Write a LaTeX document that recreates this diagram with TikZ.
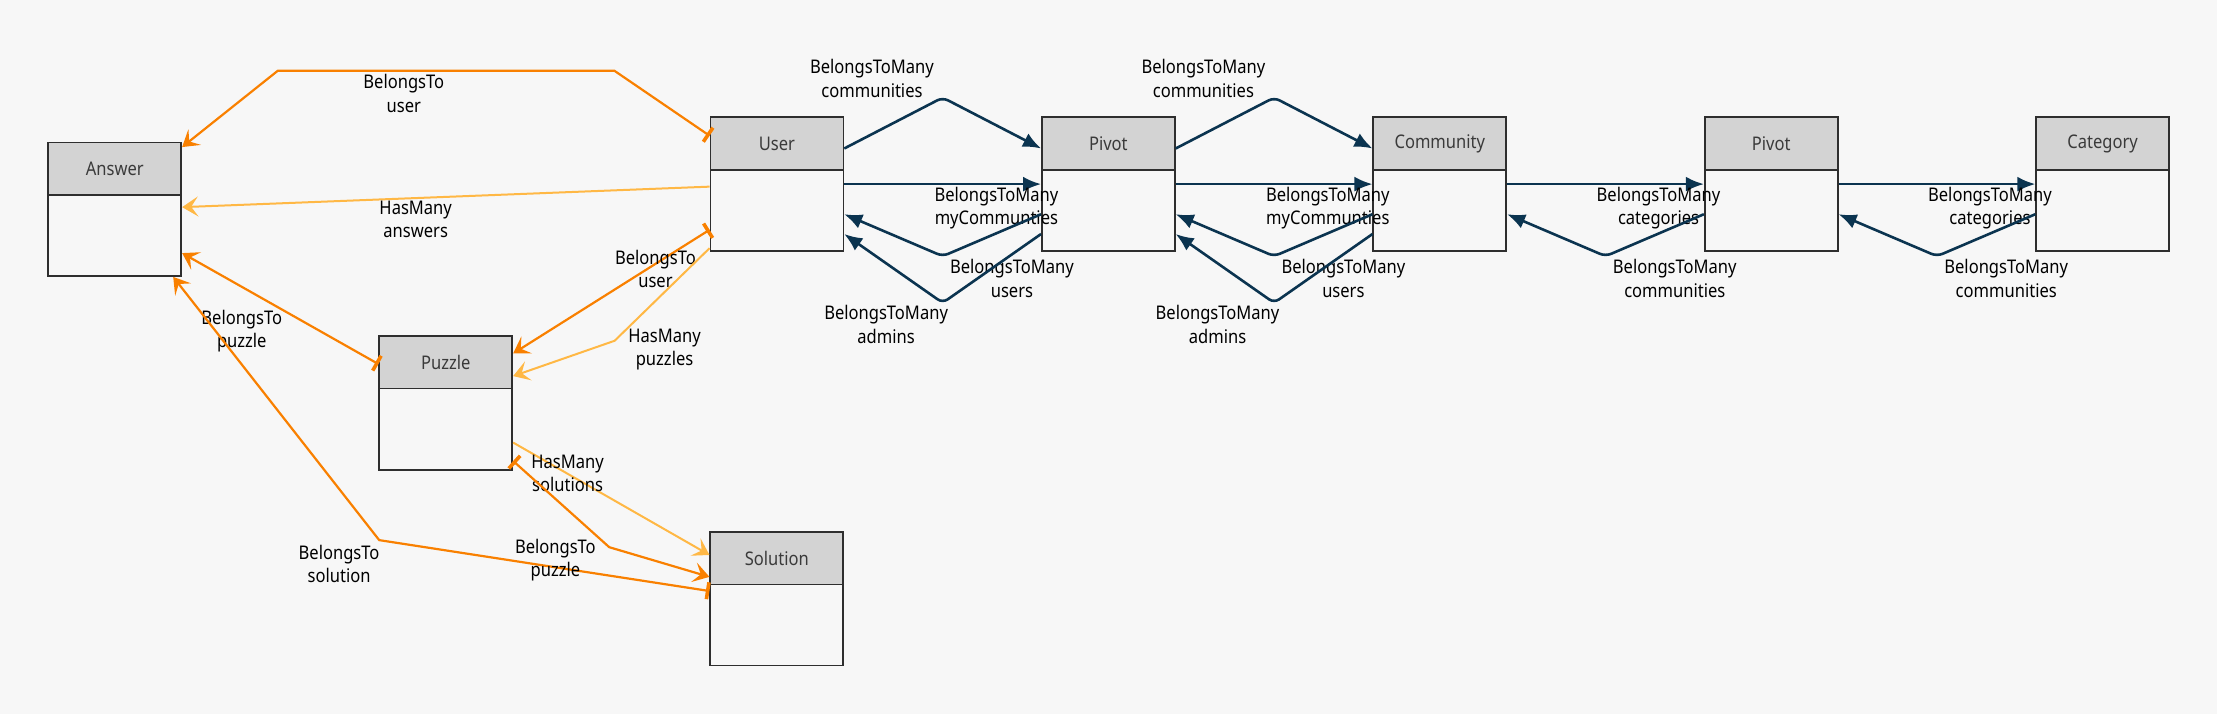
\documentclass[tikz,border=0pt]{standalone}
\usepackage{fontspec}
\usepackage{tikz}
\usetikzlibrary{arrows.meta,calc,positioning}
\newfontfamily\diagfont[FakeStretch=0.88]{Noto Sans}
\newcommand{\lblfont}{\diagfont\fontsize{9.4pt}{11.7pt}\selectfont}
\definecolor{bgGray}{HTML}{F7F7F7}
\definecolor{headGray}{HTML}{D3D3D3}
\definecolor{lineDark}{HTML}{2E2E2E}
\definecolor{titleGray}{HTML}{3A3A3A}
\definecolor{btOrange}{HTML}{F98000}
\definecolor{hmOrange}{HTML}{FFB845}
\definecolor{btmNavy}{HTML}{0B3450}
\tikzset{%
  entity/.style    = {draw=lineDark, line width=0.85pt, rectangle, minimum width=66.5pt,
    minimum height=66.8pt, inner sep=0pt},
  head/.style      = {draw=lineDark, line width=0.85pt, fill=headGray, rectangle, anchor=north,
    minimum width=66.5pt, minimum height=26.2pt, inner sep=0pt, text=titleGray, font=\lblfont},
  lbl/.style       = {align=center, inner sep=0pt, text=black, font=\lblfont},
  belongsto/.style = {draw=btOrange, line width=1.1pt,
    arrows={Bar[width=8.5pt,line width=1.8pt]-Stealth[length=8pt,width=10pt,inset=3.5pt]}},
  hasmany/.style   = {draw=hmOrange, line width=1pt,
    arrows={-Stealth[length=8pt,width=10pt,inset=3.5pt]}},
  btmany/.style    = {draw=btmNavy, line width=1.3pt, rounded corners=3pt,
    arrows={-Latex[length=9pt,width=7.5pt]}}
}

\begin{document}
\begin{tikzpicture}[x=0.7071pt, y=-0.7071pt, node distance=165.75pt]
\fill[bgGray] (0,0) rectangle (1568,505);
% entity boxes
\draw
	node at(549.5,130.2)[entity, name=user]{}
	node [entity, name=pivotA, right of=user]{}
	node [entity, name=community, right of=pivotA]{}
	node [entity, name=pivotB, right of=community]{}
	node [entity, name=category, right of=pivotB]{}
	node at(81.2,148)[entity, name=answer]{}
	node at(315.3,285)[entity, name=puzzle]{}
	node at(549.4,423.5)[entity, name=solution]{};
\draw
	node [head, name=userHead] at (user.north){User}
	node [head, name=pivotAHead] at (pivotA.north){Pivot}
	node [head, name=communityHead] at (community.north){Community}
	node [head, name=pivotBHead] at (pivotB.north){Pivot}
	node [head, name=categoryHead] at (category.north){Category}
	node [head, name=answerHead] at (answer.north){Answer}
	node [head, name=puzzleHead] at (puzzle.north){Puzzle}
	node [head, name=solutionHead] at (solution.north){Solution};
% belongs to / has many
\draw[belongsto] (user.west |- 0,96) -- (434.5,50) -- (196.5,50) -- (answer.east |- 0,104)
	node[lbl, name=answerUserLbl] at (285.6,66){BelongsTo\\user};
\draw[hasmany] (user.west |- 0,132) -- (answer.east |- 0,146.5)
	node[lbl, name=userAnswersLbl] at (294,155){HasMany\\answers};
\draw[belongsto] (user.west |- 0,162.5) -- (puzzle.east |- 0,250)
	node[lbl, name=puzzleUserLbl] at (463.6,190){BelongsTo\\user};
\draw[hasmany] (user.west |- 0,175.5) -- (434.7,241) -- (puzzle.east |- 0,266)
	node[lbl, name=userPuzzlesLbl] at (470,247){HasMany\\puzzles};
\draw[belongsto] (puzzle.west |- 0,257.5) -- (answer.east |- 0,179)
	node[lbl, name=answerPuzzleLbl] at (171,234){BelongsTo\\puzzle};
\draw[belongsto] (solution.west |- 0,418) -- (268.2,382) -- (answer.south -| 122.5,0)
	node[lbl, name=answerSolutionLbl] at (239.8,399){BelongsTo\\solution};
\draw[hasmany] (puzzle.east |- 0,313) -- (solution.west |- 0,392.5)
	node[lbl, name=puzzleSolutionsLbl] at (401.4,335){HasMany\\solutions};
\draw[belongsto] (puzzle.east |- 0,326) -- (430.9,387) -- (solution.west |- 0,408)
	node[lbl, name=solutionPuzzleLbl] at (392.8,396){BelongsTo\\puzzle};
% belongs to many through the pivots
\foreach \a/\b in {user/pivotA, pivotA/community}{
	\draw[btmany] (\a.east |- 0,105) -- ($(\a.east)!.5!(\b.west)+(0,-61.2)$) -- (\b.west |- 0,105)
		node[lbl, name=\a-comm] at ($(\a.east)!.5!(\b.west)+(-50,-74.7)$){BelongsToMany\\communities};
	\draw[btmany] (\a.east) -- (\b.west)
		node[lbl, name=\a-mycomm] at ($(\a.east)!.5!(\b.west)+(38,16.8)$){BelongsToMany\\myCommunties};
	\draw[btmany] (\b.west |- 0,151.5) -- ($(\a.east)!.5!(\b.west)+(0,51)$) -- (\a.east |- 0,151.5)
		node[lbl, name=\a-users] at ($(\a.east)!.5!(\b.west)+(49,66.8)$){BelongsToMany\\users};
	\draw[btmany] (\b.west |- 0,165.5) -- ($(\a.east)!.5!(\b.west)+(0,84)$) -- (\a.east |- 0,165.5)
		node[lbl, name=\a-admins] at ($(\a.east)!.5!(\b.west)+(-40,99.3)$){BelongsToMany\\admins};
}
\foreach \a/\b in {community/pivotB, pivotB/category}{
	\draw[btmany] (\a.east) -- (\b.west)
		node[lbl, name=\a-cats] at ($(\a.east)!.5!(\b.west)+(37.5,16.8)$){BelongsToMany\\categories};
	\draw[btmany] (\b.west |- 0,151.5) -- ($(\a.east)!.5!(\b.west)+(0,51)$) -- (\a.east |- 0,151.5)
		node[lbl, name=\a-comms] at ($(\a.east)!.5!(\b.west)+(49,66.8)$){BelongsToMany\\communities};
}
\end{tikzpicture}
\end{document}
